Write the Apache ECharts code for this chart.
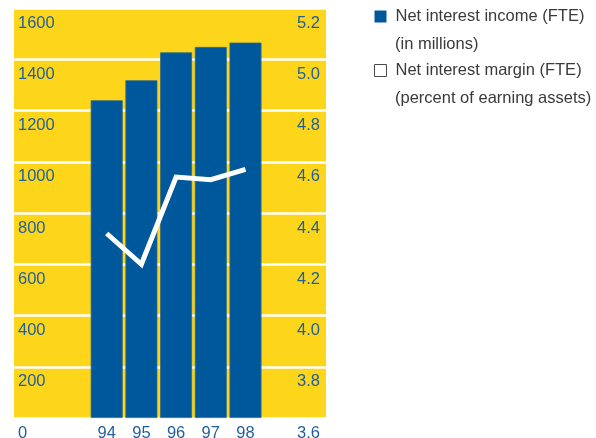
<!DOCTYPE html>
<html>
<head>
<meta charset="utf-8">
<script src="https://cdn.jsdelivr.net/npm/echarts@6/dist/echarts.min.js"></script>
<style>
  html, body { margin: 0; padding: 0; background: #ffffff; }
  #chart { width: 596px; height: 438px; }
</style>
</head>
<body>
<div id="chart"></div>
<script>
// Fiscal years shown on the category axis
const years = ['94', '95', '96', '97', '98'];
// Net interest income (FTE), in millions
const incomeValues = [1240, 1318, 1427, 1448, 1465];
// Net interest margin (FTE), percent of earning assets
const marginValues = [4.32, 4.20, 4.54, 4.53, 4.57];
// Axis ranges and steps
const incomeAxis = { min: 0, max: 1600, step: 200 };
const marginAxis = { min: 3.6, max: 5.2, step: 0.2 };

const incomeName = 'Net interest income (FTE)';
const marginName = 'Net interest margin (FTE)';

const BLUE = '#00589c';
const YELLOW = '#fdd51b';
const LABEL_BLUE = '#1f5f9b';
const TEXT_GREY = '#3a3a3a';
const FONT = "'Liberation Sans', Arial, sans-serif";
const FONT_SIZE = 16.5;

const chart = echarts.init(document.getElementById('chart'), null, { renderer: 'canvas' });

// value labels sit just below their grid line, inside the panel
const labelBase = {
  inside: true,
  fontFamily: FONT,
  fontSize: FONT_SIZE,
  color: LABEL_BLUE,
  verticalAlign: 'top',
  lineHeight: 20,
  padding: [5, 0, 0, 0],
  showMinLabel: true,
  showMaxLabel: true
};

chart.setOption({
  animation: false,
  backgroundColor: '#ffffff',
  grid: [
    // full-width yellow panel carrying both value scales
    { left: 14, width: 312, top: 8, height: 410, show: true, backgroundColor: YELLOW, borderWidth: 0, outerBoundsMode: 'none', containLabel: false },
    // narrower band holding the five yearly columns
    { left: 89.35, width: 173.5, top: 8, height: 410, outerBoundsMode: 'none', containLabel: false }
  ],
  xAxis: [
    { gridIndex: 0, type: 'category', data: years, show: false },
    {
      gridIndex: 1, type: 'category', data: years,
      axisLine: { show: false }, axisTick: { show: false },
      axisLabel: { margin: 7, fontFamily: FONT, fontSize: FONT_SIZE, color: LABEL_BLUE }
    }
  ],
  yAxis: [
    {
      gridIndex: 0, type: 'value', position: 'left',
      min: incomeAxis.min, max: incomeAxis.max, interval: incomeAxis.step,
      axisLine: { show: false }, axisTick: { show: false },
      axisLabel: Object.assign({}, labelBase, { margin: 4, align: 'left', formatter: v => String(v) }),
      splitLine: { show: true, lineStyle: { color: '#ffffff', width: 2.5 } }
    },
    {
      gridIndex: 0, type: 'value', position: 'right',
      min: marginAxis.min, max: marginAxis.max, interval: marginAxis.step,
      axisLine: { show: false }, axisTick: { show: false },
      axisLabel: Object.assign({}, labelBase, {
        margin: 6, align: 'right',
        formatter: v => v.toFixed(1)
      }),
      splitLine: { show: false }
    },
    { gridIndex: 1, type: 'value', min: incomeAxis.min, max: incomeAxis.max, show: false, splitLine: { show: false } },
    { gridIndex: 1, type: 'value', min: marginAxis.min, max: marginAxis.max, show: false, splitLine: { show: false } }
  ],
  legend: {
    orient: 'vertical',
    left: 374,
    top: 8,
    padding: 0,
    itemWidth: 12,
    itemHeight: 12,
    itemGap: 37,
    textStyle: { fontFamily: FONT, fontSize: FONT_SIZE, color: TEXT_GREY, padding: [0, 0, 0, 4] },
    data: [
      { name: incomeName, icon: 'rect', itemStyle: { color: BLUE, borderWidth: 0 } },
      { name: marginName, icon: 'rect', itemStyle: { color: '#ffffff', borderColor: '#4a4a4a', borderWidth: 1 } }
    ]
  },
  graphic: [
    { type: 'text', left: 395, top: 36, style: { text: '(in millions)', fontFamily: FONT, fontSize: FONT_SIZE, fill: TEXT_GREY } },
    { type: 'text', left: 395, top: 90, style: { text: '(percent of earning assets)', fontFamily: FONT, fontSize: FONT_SIZE, fill: TEXT_GREY } }
  ],
  series: [
    {
      name: incomeName,
      type: 'bar',
      xAxisIndex: 1,
      yAxisIndex: 2,
      data: incomeValues,
      barWidth: 32,
      itemStyle: { color: BLUE, borderColor: '#356c8c', borderWidth: 0.8 },
      z: 2
    },
    {
      name: marginName,
      type: 'line',
      xAxisIndex: 1,
      yAxisIndex: 3,
      data: marginValues,
      showSymbol: false,
      symbol: 'none',
      lineStyle: { color: '#ffffff', width: 5, join: 'miter', cap: 'butt' },
      z: 3
    }
  ]
});
</script>
</body>
</html>
